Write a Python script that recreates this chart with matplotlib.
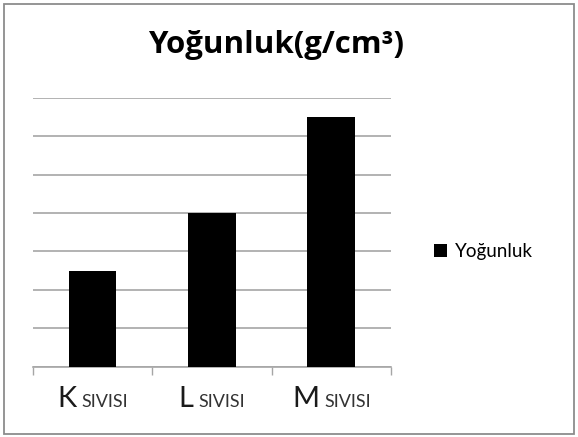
import matplotlib.pyplot as plt
from matplotlib.patches import Rectangle

# data
letters = ["K", "L", "M"]
suffix = "SIVISI"
values = [2.5, 4.0, 6.5]
series_name = "Yoğunluk"
title = "Yoğunluk(g/cm³)"

FONT = "Lato"

fig = plt.figure(figsize=(5.78, 4.37), dpi=100)
fig.patch.set_facecolor("white")

# outer chart border
fig.patches.append(Rectangle((0.007, 0.007), 0.986, 0.984, transform=fig.transFigure,
                             fill=False, edgecolor="#8c8c8c", linewidth=1.3))

ax = fig.add_axes([0.057, 0.161, 0.6195, 0.6155])
x = list(range(len(letters)))
bars = ax.bar(x, values, width=0.4, color="black", label=series_name, zorder=3)

ax.set_xlim(-0.5, len(letters) - 0.5)
ax.set_ylim(0, 7)
ax.set_yticks(range(0, 8))
ax.yaxis.grid(True, color="#a6a6a6", linewidth=1.2, zorder=0)
ax.tick_params(axis="y", left=False, labelleft=False)
ax.set_xticks([i - 0.5 for i in range(len(letters) + 1)])
ax.tick_params(axis="x", length=6, width=1, color="#a6a6a6", labelbottom=False)
for s in ["left", "right", "top"]:
    ax.spines[s].set_visible(False)
ax.spines["bottom"].set_color("#a6a6a6")
ax.spines["bottom"].set_linewidth(1.2)

# category labels: big letter + small-caps suffix, centred as a group
fig.canvas.draw()
r = fig.canvas.get_renderer()
label_y = 0.069
for i, letter in enumerate(letters):
    cx = ax.transData.transform((i, 0))[0] / fig.bbox.width
    t1 = fig.text(0, label_y, letter, fontsize=21, family=FONT,
                  color="#1a1a1a", va="baseline")
    t2 = fig.text(0, label_y, suffix, fontsize=13, family=FONT, color="#333333",
                  va="baseline")
    w1 = t1.get_window_extent(r).width / fig.bbox.width
    w2 = t2.get_window_extent(r).width / fig.bbox.width
    gap = 5 / fig.bbox.width
    left = cx - (w1 + gap + w2) / 2
    t1.set_x(left)
    t2.set_x(left + w1 + gap)

fig.text(0.478, 0.897, title, fontsize=22.5, family="Open Sans", fontweight="bold",
         ha="center", va="center", color="black")

fig.legend(handles=[bars], labels=[series_name], loc="center left",
           bbox_to_anchor=(0.722, 0.425), frameon=False, handlelength=0.68,
           handleheight=0.68, handletextpad=0.4,
           prop={"family": FONT, "size": 13.5})

fig.savefig("out.png", dpi=100)
